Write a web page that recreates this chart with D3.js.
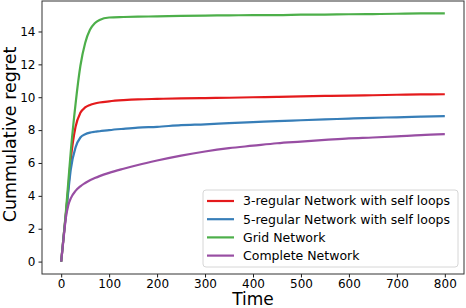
<!DOCTYPE html>
<html>
<head>
<meta charset="utf-8">
<script src="https://cdn.jsdelivr.net/npm/d3@7"></script>
<style>
  body { margin: 0; background: #fff; }
  text { font-family: "DejaVu Sans", sans-serif; fill: #000; }
</style>
</head>
<body>
<div id="chart"></div>
<script>
// temps (x) et valeurs
const times = [0, 5, 10, 15, 20, 30, 40, 50, 60, 70, 80, 100, 130, 160, 200, 250, 300, 350, 400, 450, 500, 550, 600, 650, 700, 750, 800];

const regular3 = [0, 1.5, 2.95, 4.5, 6.2, 8.2, 9.05, 9.38, 9.53, 9.62, 9.68, 9.75, 9.82, 9.87, 9.9, 9.93, 9.95, 9.97, 10.0, 10.02, 10.05, 10.08, 10.1, 10.12, 10.15, 10.17, 10.18];
const regular5 = [0, 1.5, 2.9, 4.3, 5.6, 6.95, 7.55, 7.75, 7.85, 7.9, 7.93, 8.0, 8.08, 8.15, 8.2, 8.3, 8.35, 8.42, 8.48, 8.55, 8.6, 8.65, 8.7, 8.75, 8.78, 8.82, 8.85];
const grid = [0, 1.5, 3.1, 4.9, 6.7, 9.6, 11.9, 13.3, 14.1, 14.5, 14.7, 14.85, 14.88, 14.9, 14.92, 14.95, 14.97, 14.98, 15.0, 15.0, 15.02, 15.03, 15.05, 15.06, 15.08, 15.1, 15.1];
const complete = [0, 1.4, 2.7, 3.45, 3.85, 4.3, 4.58, 4.78, 4.95, 5.08, 5.2, 5.4, 5.65, 5.88, 6.15, 6.45, 6.7, 6.9, 7.05, 7.2, 7.3, 7.4, 7.5, 7.55, 7.62, 7.7, 7.75];

const seriesNames = ["3-regular Network with self loops", "5-regular Network with self loops", "Grid Network", "Complete Network"];
const seriesValues = [regular3, regular5, grid, complete];
const seriesColors = ["#e41a1c", "#377eb8", "#4daf4a", "#984ea3"];

const xTicks = [0, 100, 200, 300, 400, 500, 600, 700, 800];
const yTicks = [0, 2, 4, 6, 8, 10, 12, 14];

const width = 466, height = 308;
const margin = { top: 1, right: 2, bottom: 34, left: 42 };

const svg = d3.select("#chart").append("svg")
    .attr("width", width)
    .attr("height", height);

const x = d3.scaleLinear().domain([-40, 840]).range([margin.left, width - margin.right]);
const y = d3.scaleLinear().domain([-0.755, 15.855]).range([height - margin.bottom, margin.top]);

// Axes
const xAxis = svg.append("g")
    .attr("transform", `translate(0,${height - margin.bottom})`)
    .call(d3.axisBottom(x).tickValues(xTicks).tickSize(3.5).tickPadding(2));
const yAxis = svg.append("g")
    .attr("transform", `translate(${margin.left},0)`)
    .call(d3.axisLeft(y).tickValues(yTicks).tickSize(3.5).tickPadding(3));

[xAxis, yAxis].forEach(a => {
    a.selectAll("text").style("font-size", "12px").style("font-family", "DejaVu Sans");
    a.selectAll("line").attr("stroke", "#000").attr("stroke-width", 0.9);
    a.select(".domain").remove();
});

// Lignes
const line = d3.line()
    .x((d, i) => x(times[i]))
    .y(d => y(d))
    .curve(d3.curveMonotoneX);

svg.append("g")
    .selectAll("path")
    .data(seriesValues)
    .enter().append("path")
    .attr("fill", "none")
    .attr("stroke", (d, i) => seriesColors[i])
    .attr("stroke-width", 2.2)
    .attr("stroke-linejoin", "round")
    .attr("d", line);

// Cadre
svg.append("rect")
    .attr("x", margin.left)
    .attr("y", margin.top)
    .attr("width", width - margin.left - margin.right)
    .attr("height", height - margin.top - margin.bottom)
    .attr("fill", "none")
    .attr("stroke", "#333")
    .attr("stroke-width", 1);

// Titres des axes
svg.append("text")
    .attr("x", (margin.left + width - margin.right) / 2)
    .attr("y", 304.5)
    .attr("text-anchor", "middle")
    .style("font-size", "17px")
    .text("Time");

svg.append("text")
    .attr("transform", `translate(16,${(margin.top + height - margin.bottom) / 2 - 3}) rotate(-90)`)
    .attr("text-anchor", "middle")
    .style("font-size", "17.5px")
    .text("Cummulative regret");

// Légende
const legend = svg.append("g").attr("transform", "translate(203,190)");
legend.append("rect")
    .attr("width", 255)
    .attr("height", 77)
    .attr("rx", 3)
    .attr("fill", "#fff")
    .attr("fill-opacity", 0.8)
    .attr("stroke", "#d6d6d6");

const item = legend.selectAll(".item")
    .data(seriesNames)
    .enter().append("g")
    .attr("class", "item")
    .attr("transform", (d, i) => `translate(0,${11 + i * 18.2})`);

item.append("line")
    .attr("x1", 4).attr("x2", 31)
    .attr("stroke", (d, i) => seriesColors[i])
    .attr("stroke-width", 2.2);

item.append("text")
    .attr("x", 40)
    .attr("dy", "0.35em")
    .style("font-size", "12.5px")
    .text(d => d);
</script>
</body>
</html>
